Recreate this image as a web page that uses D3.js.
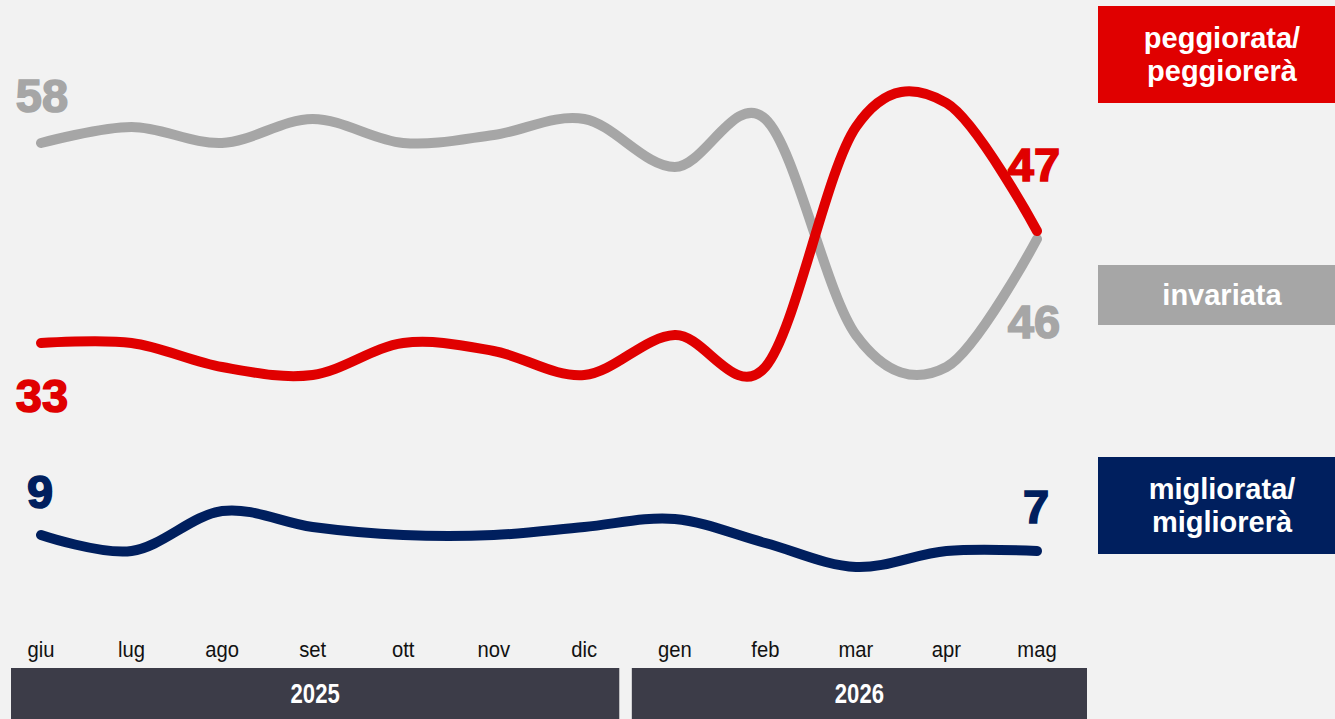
<!DOCTYPE html>
<html lang="it">
<head>
<meta charset="UTF-8">
<title>Situazione economica</title>
<script src="https://d3js.org/d3.v7.min.js"></script>
<style>
  body { margin: 0; background: #f2f2f2; overflow: hidden; }
  text { font-family: "Liberation Sans", Arial, sans-serif; }
  .month { font-size: 22px; fill: #111; text-anchor: middle; }
  .year { font-size: 27px; font-weight: bold; fill: #fff; text-anchor: middle; }
  .val { font-size: 47px; font-weight: bold; stroke-width: 1.6px; }
  .leg { font-size: 29px; font-weight: bold; fill: #fff; text-anchor: middle; }
</style>
</head>
<body>
<svg id="chart" width="1335" height="719"></svg>
<script>
const months = ["giu","lug","ago","set","ott","nov","dic","gen","feb","mar","apr","mag"]
const peggiorata = [33,33,30,29,33,32,29,34,30,60,63,47]
const invariata  = [58,60,58,61,58,59,61,55,61,34,30,46]
const migliorata = [9,7,12,10,9,9,10,11,8,5,7,7]
const years = [{label:"2025", from:"giu", to:"dic"}, {label:"2026", from:"gen", to:"mag"}]

const colors = {red:"#e00000", gray:"#a6a6a6", navy:"#001f5e"}

const svg = d3.select("#chart")
svg.append("rect").attr("width",1335).attr("height",719).attr("fill","#f2f2f2")

const x = d3.scalePoint().domain(months).range([41, 1037])
const y = d3.scaleLinear().domain([0, 75]).range([607, 7])

const line = d3.line()
    .x((d,i) => x(months[i]))
    .y(d => y(d))
    .curve(d3.curveCardinal.tension(0))

const series = [
    {vals: invariata, color: colors.gray},
    {vals: peggiorata, color: colors.red},
    {vals: migliorata, color: colors.navy}
]

svg.append("g").selectAll("path")
    .data(series)
    .join("path")
    .attr("d", d => line(d.vals))
    .attr("fill","none")
    .attr("stroke", d => d.color)
    .attr("stroke-width", 10)
    .attr("stroke-linecap","round")
    .attr("stroke-linejoin","round")

// value labels at start and end
const last = months.length - 1
const labels = [
    {t: invariata[0], x: 42, y: 112, c: colors.gray},
    {t: peggiorata[0], x: 42, y: 412, c: colors.red},
    {t: migliorata[0], x: 40, y: 508, c: colors.navy},
    {t: peggiorata[last], x: 1034, y: 181, c: colors.red},
    {t: invariata[last], x: 1034, y: 338, c: colors.gray},
    {t: migliorata[last], x: 1036, y: 523, c: colors.navy}
]
svg.append("g").selectAll("text")
    .data(labels)
    .join("text")
    .attr("class","val")
    .attr("x", d => d.x)
    .attr("y", d => d.y)
    .attr("text-anchor","middle")
    .attr("fill", d => d.c)
    .attr("stroke", d => d.c)
    .text(d => d.t)

// month axis
svg.append("g").selectAll("text")
    .data(months)
    .join("text")
    .attr("class","month")
    .attr("x", d => x(d))
    .attr("y", 657)
    .attr("transform", d => `translate(${x(d)},0) scale(0.92,1) translate(${-x(d)},0)`)
    .text(d => d)

// year bars
const step = x.step()
const barX0 = (d,i) => i === 0 ? x(d.from) - 30 : x(d.from) - 43
const barX1 = (d,i) => i === 0 ? x(d.to) + 35 : x(d.to) + 50
const yb = svg.append("g").selectAll("g")
    .data(years)
    .join("g")
yb.append("rect")
    .attr("x", barX0)
    .attr("y", 668)
    .attr("width", (d,i) => barX1(d,i) - barX0(d,i))
    .attr("height", 51)
    .attr("fill","#3c3c48")
yb.append("text")
    .attr("class","year")
    .attr("transform", (d,i) => `translate(${(barX0(d,i) + barX1(d,i))/2},703) scale(0.82,1)`)
    .text(d => d.label)

// legend boxes
const legend = [
    {lines:["peggiorata/","peggiorerà"], c: colors.red, y0: 6, h: 97},
    {lines:["invariata"], c: colors.gray, y0: 265, h: 60},
    {lines:["migliorata/","migliorerà"], c: colors.navy, y0: 457, h: 97}
]
const lg = svg.append("g").selectAll("g")
    .data(legend)
    .join("g")
lg.append("rect")
    .attr("x",1098).attr("y", d => d.y0)
    .attr("width",237).attr("height", d => d.h)
    .attr("fill", d => d.c)
lg.each(function(d){
    const g = d3.select(this)
    const n = d.lines.length
    d.lines.forEach((t,i) => {
        g.append("text")
            .attr("class","leg")
            .attr("x", 1222)
            .attr("y", d.y0 + d.h/2 + 10 + (i - (n-1)/2) * 33)
            .text(t)
    })
})
</script>
</body>
</html>
